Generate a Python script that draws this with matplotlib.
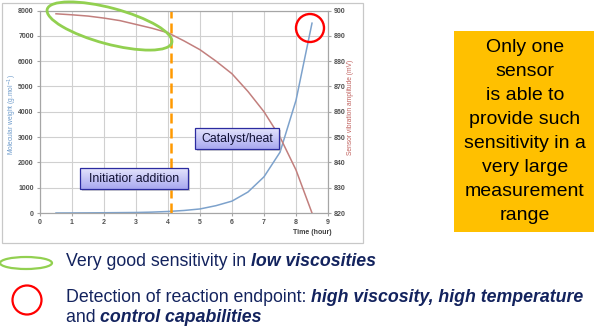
import matplotlib
matplotlib.use('Agg')
import matplotlib.pyplot as plt
import numpy as np
from matplotlib.patches import Ellipse, Circle, Rectangle
from matplotlib.colors import LinearSegmentedColormap

plt.rcParams['font.family'] = ['Liberation Sans', 'DejaVu Sans']

# data
time_h = [0.5, 1, 1.5, 2, 2.5, 3, 3.5, 4, 4.5, 5, 5.5, 6, 6.5, 7, 7.5, 8, 8.5]
mol_weight = [0, 2, 5, 10, 15, 20, 35, 60, 100, 160, 290, 470, 830, 1430, 2400, 4450, 7500]
amplitude = [898.7, 898.3, 897.8, 897.0, 896.0, 894.5, 893.0, 891.2, 888.0, 884.5,
             880.0, 875.0, 868.0, 860.0, 850.0, 837.0, 820.0]
event_time = 4.08
left_ticks = [0, 1000, 2000, 3000, 4000, 5000, 6000, 7000, 8000]
right_ticks = [820, 830, 840, 850, 860, 870, 880, 890, 900]
box_lines = ['Only one', 'sensor', 'is able to', 'provide such',
             'sensitivity in a', 'very large', 'measurement', 'range']

W, H = 596, 327
fig = plt.figure(figsize=(W / 100, H / 100), dpi=100)

# chart area
ax = fig.add_axes([40 / W, 1 - 213 / H, 288 / W, 202.5 / H])
ax.plot(time_h, mol_weight, color='#7DA2CC', lw=1.1)
ax.set_xlim(0, 9)
ax.set_ylim(0, 8000)
ax.set_xticks(range(10))
ax.set_yticks(left_ticks)
ax.grid(True, color='#D0D0D0', lw=0.8)
ax.set_axisbelow(True)
ax.axvline(event_time, color='#FF9900', lw=1.8, ls=(0, (4, 2)), zorder=5)

ax2 = ax.twinx()
ax2.plot(time_h, amplitude, color='#C27F7D', lw=1.1)
ax2.set_ylim(820, 900)
ax2.set_yticks(right_ticks)

for a in (ax, ax2):
    for s in a.spines.values():
        s.set_color('#A6A6A6')
        s.set_linewidth(0.8)
    a.tick_params(labelsize=5, colors='#A6A6A6', labelcolor='#505050', length=2.5, width=0.8, pad=2)
    for lab in a.get_xticklabels() + a.get_yticklabels():
        lab.set_fontweight('bold')

# overlay in pixel units
ov = fig.add_axes([0, 0, 1, 1], zorder=10)
ov.axis('off')

ov.add_patch(Rectangle((2, 3), 361, 240, fill=False, ec='#C8C8C8', lw=0.9))
ov.text(12, 115, 'Molecular weight (g.mol$^{-1}$)', rotation=90, ha='center', va='center',
        fontsize=4.8, color='#6E9BCB')
ov.text(351, 107, 'Sensor vibration amplitude (mV)', rotation=90, ha='center', va='center',
        fontsize=4.8, color='#C0605D')
ov.text(332, 232, 'Time (hour)', ha='right', va='center', fontsize=5, fontweight='bold', color='#404040')

ov.add_patch(Ellipse((109.5, 26), 129, 36, angle=15, fill=False, ec='#92D050', lw=2.0))
ov.add_patch(Circle((310, 28), 14, fill=False, ec='#FF0000', lw=1.7))

grad_cmap = LinearSegmentedColormap.from_list('lav', ['#E4E4FC', '#A9A9F0'])
grad = np.linspace(0, 1, 64).reshape(-1, 1)


def label_box(x0, y0, x1, y1, txt):
    ov.add_patch(Rectangle((x0 + 2, y0 + 2), x1 - x0, y1 - y0, fc='#B0B0B0', ec='none', alpha=0.6))
    im = ov.imshow(grad, cmap=grad_cmap, extent=(x0, x1, y1, y0), aspect='auto',
                   interpolation='bilinear', zorder=2)
    frame = Rectangle((x0, y0), x1 - x0, y1 - y0, fc='none', ec='#2B2BA0', lw=0.9, zorder=3)
    ov.add_patch(frame)
    im.set_clip_path(frame)
    ov.text((x0 + x1) / 2, (y0 + y1) / 2 + 0.5, txt, ha='center', va='center',
            fontsize=8.8, color='#111133', zorder=4)


label_box(80, 168, 188, 189, 'Initiatior addition')
label_box(195, 128, 279, 149, 'Catalyst/heat')

# orange statement box
ov.add_patch(Rectangle((454, 31), 140, 201, fc='#FFC000', ec='none'))
for i, line in enumerate(box_lines):
    ov.text(525, 48 + i * 23.9, line, ha='center', va='center', fontsize=14, color='#000000')

# legend notes
navy = '#13235E'
ov.add_patch(Ellipse((26, 263), 52, 12, fill=False, ec='#92D050', lw=1.6))
ov.add_patch(Circle((27, 300), 14.5, fill=False, ec='#FF0000', lw=1.6))


def rich_line(x, y, parts):
    prev = ov.text(x, y, parts[0][0], ha='left', va='center', fontsize=12.8, color=navy,
                   fontweight=parts[0][1], fontstyle=parts[0][2])
    for txt, fw, fs in parts[1:]:
        prev = ov.annotate(txt, xy=(1, 0), xycoords=prev, ha='left', va='bottom',
                           fontsize=12.8, color=navy, fontweight=fw, fontstyle=fs)


rich_line(66, 262, [('Very good sensitivity in ', 'normal', 'normal'),
                    ('low viscosities', 'bold', 'italic')])
rich_line(66, 297, [('Detection of reaction endpoint: ', 'normal', 'normal'),
                    ('high viscosity, high temperature', 'bold', 'italic')])
rich_line(66, 317, [('and ', 'normal', 'normal'),
                    ('control capabilities', 'bold', 'italic')])

ov.set_xlim(0, W)
ov.set_ylim(H, 0)

fig.savefig('out.png', dpi=100)
